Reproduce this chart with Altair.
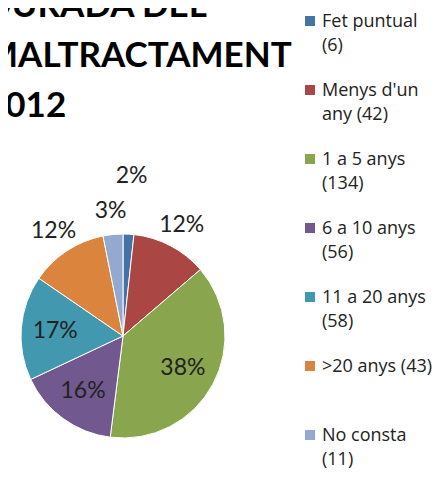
import altair as alt
import pandas as pd

# ---- data ----
categories = ["Fet puntual", "Menys d'un any", "1 a 5 anys", "6 a 10 anys",
              "11 a 20 anys", ">20 anys", "No consta"]
counts = [6, 42, 134, 56, 58, 43, 11]
legend_labels = ["Fet puntual\n(6)", "Menys d'un\nany (42)", "1 a 5 anys\n(134)",
                 "6 a 10 anys\n(56)", "11 a 20 anys\n(58)", ">20 anys (43)",
                 "No consta\n(11)"]
colors = ["#4572A7", "#AA4643", "#89A54E", "#71588F", "#4198AF", "#DB843D", "#93A9CF"]
title_lines = ["DURADA DEL", "MALTRACTAMENT", "2012"]

df = pd.DataFrame({"category": categories, "value": counts,
                   "legend": legend_labels, "idx": list(range(len(categories)))})
title_df = pd.DataFrame({"t": ["\n".join(title_lines)]})

CX, CY, R = 115, 328, 102
FONT = "Lato"

color = alt.Color("category:N", scale=alt.Scale(domain=categories, range=colors), legend=None)
base = alt.Chart(df)

pie = base.mark_arc(outerRadius=R, stroke="white", strokeWidth=1).encode(
    theta=alt.Theta("value:Q", stack=True),
    order=alt.Order("idx:Q"),
    color=color,
    x=alt.value(CX), y=alt.value(CY),
)

labels = base.transform_joinaggregate(
    total="sum(value)"
).transform_window(
    cum="sum(value)", sort=[alt.SortField("idx")], frame=[None, 0]
).transform_calculate(
    mid="datum.cum - datum.value / 2",
    label="format(datum.value / datum.total, '.0%')",
    lr="datum.value / datum.total < 0.025 ? 160 : (datum.value / datum.total < 0.14 ? 126 : 68)",
).mark_text(font=FONT, fontSize=23, color="#222").encode(
    theta=alt.Theta("mid:Q", stack=None),
    radius=alt.Radius("lr:Q", scale=None),
    text="label:N",
    x=alt.value(CX), y=alt.value(CY),
)

leg_y = alt.Y("category:N", sort=categories,
              scale=alt.Scale(type="point", range=[13, 427], padding=0), axis=None)
leg_sym = base.mark_square(size=100, opacity=1).encode(
    x=alt.value(302), y=leg_y, color=color)
leg_txt = base.mark_text(align="left", baseline="alphabetic", dy=6, lineBreak="\n",
                         lineHeight=24, font="Open Sans", fontSize=18, color="#222").encode(
    x=alt.value(314), y=leg_y, text="legend:N")

title = alt.Chart(title_df).mark_text(
    align="left", baseline="alphabetic", lineBreak="\n", lineHeight=50,
    font=FONT, fontSize=35, fontWeight="bold", color="black",
).encode(x=alt.value(-23), y=alt.value(9), text="t:N")

chart = alt.layer(pie, labels, leg_sym, leg_txt, title).properties(
    width=427, height=463,
    autosize=alt.AutoSizeParams(type="none"),
    padding=0,
).configure_view(stroke=None)

chart.save("out.html", embed_options={"renderer": "svg", "actions": False})
